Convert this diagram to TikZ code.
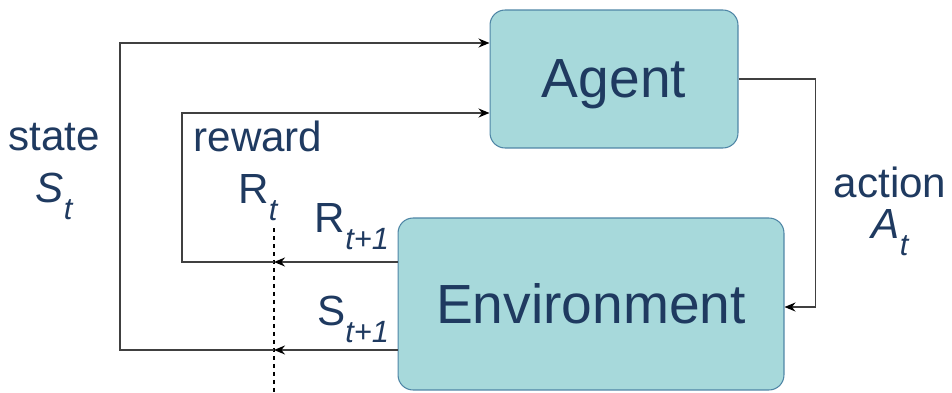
\documentclass[tikz,border=0pt]{standalone}
\usepackage{fontspec}
\setmainfont{Liberation Sans}
\usetikzlibrary{arrows.meta,positioning}

\definecolor{boxfill}{HTML}{A7D9DB}
\definecolor{boxline}{HTML}{4F86A6}
\definecolor{textblue}{HTML}{1F3A60}
\definecolor{wiregray}{HTML}{404040}

% lowered italic subscript, as the slide sets it
\newcommand{\lowsub}[1]{\raisebox{-0.42em}{\fontsize{17.5}{17.5}\selectfont\itshape #1}}

\tikzset{
  block/.style={draw=boxline, fill=boxfill, line width=0.6pt, rounded corners=0.3cm,
    text=textblue, text depth=0pt, font=\fontsize{31.4}{31.4}\selectfont},
  lbl/.style={text=textblue, font=\fontsize{24}{29.5}\selectfont, align=center, inner sep=0pt},
  wire/.style={draw=wiregray, line width=0.85pt, -{Stealth[length=0.22cm,width=0.18cm,color=black]}},
}

\begin{document}
\begin{tikzpicture}[x=0.02cm,y=-0.02cm]
  \useasboundingbox (0,0) rectangle (952,392);

  % Agent and environment
  \node[block, minimum width=4.96cm, minimum height=2.76cm] (agent) at (614,79) {Agent};
  \node[block, minimum width=7.72cm, minimum height=3.44cm] (env) at (591,304) {Environment};

  % time step boundary
  \coordinate (cut) at (274,228);
  \coordinate (cutend) at (274,392);
  \draw[line width=0.6pt, dash pattern=on 0.08cm off 0.08cm] (cut) -- (cutend);

  % action
  \draw[wire] (agent.east) -- ++(77,0) |- ([yshift=-0.06cm]env.east);

  % state and reward back to the agent
  \coordinate (sout) at ([yshift=-0.92cm]env.west);
  \coordinate (rout) at ([yshift=0.84cm]env.west);
  \coordinate (sin) at ([yshift=0.72cm]agent.west);
  \coordinate (rin) at ([yshift=-0.68cm]agent.west);
  \draw[wire] (sout) -- (sout -| cut);
  \draw[wire] (sout -| cut) -- ++(-154,0) |- (sin);
  \draw[wire] (rout) -- (rout -| cut);
  \draw[wire] (rout -| cut) -- ++(-92,0) |- (rin);

  % Labels (base = last line)
  \node[lbl, anchor=base] (state) at (54,202) {state\\\textit{S}\lowsub{t}};
  \node[lbl, anchor=base] (reward) at (258,203) {reward\\R\lowsub{t}};
  \node[lbl, anchor=base] (rnext) at (352,232) {R\lowsub{t+1}};
  \node[lbl, anchor=base] (snext) at (353,325) {S\lowsub{t+1}};
  \node[lbl, anchor=base] (action) at (890,238) {action\\[-6.2pt]\textit{A}\lowsub{t}};
\end{tikzpicture}
\end{document}
